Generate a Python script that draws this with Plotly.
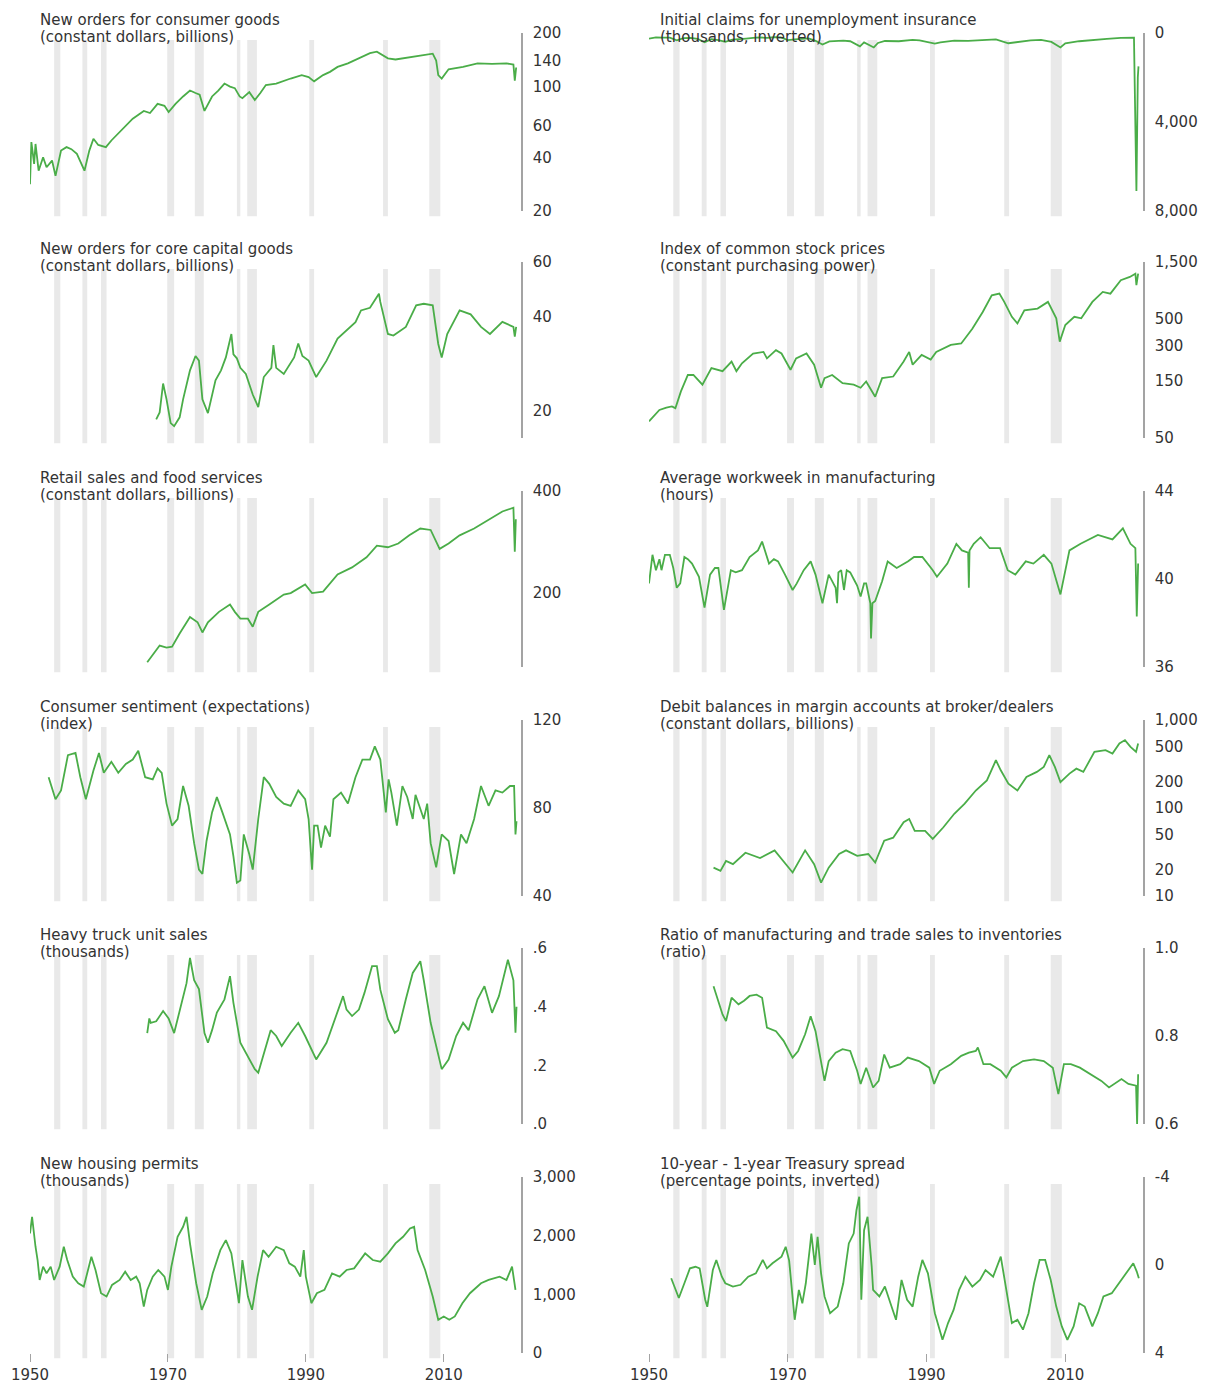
import math
import plotly.graph_objects as go

# ---------------- recession periods (shaded) ----------------
rec_start = [1953.5, 1957.6, 1960.3, 1969.9, 1973.9, 1980.0, 1981.5, 1990.5, 2001.2, 2007.9]
rec_end = [1954.4, 1958.3, 1961.1, 1970.9, 1975.2, 1980.5, 1982.9, 1991.2, 2001.9, 2009.5]

# ---------------- series data ----------------
cg_years = [1950.0, 1950.2, 1950.6, 1950.8, 1951.25, 1951.9, 1952.4, 1953.2, 1953.7, 1954.5, 1955.3, 1956.0,
            1956.8, 1957.9, 1958.6, 1959.2, 1959.9, 1961.0, 1961.8, 1962.3, 1963.5, 1964.9, 1966.5, 1967.4,
            1968.5, 1969.5, 1970.1, 1971.1, 1972.2, 1973.2, 1974.0, 1974.6, 1975.3, 1976.4, 1977.3, 1978.2,
            1979.0, 1979.7, 1980.4, 1980.8, 1981.8, 1982.6, 1983.4, 1984.2, 1985.7, 1986.8, 1987.8, 1989.4,
            1990.4, 1991.2, 1992.5, 1993.5, 1994.6, 1996.1, 1997.7, 1999.3, 2000.3, 2001.4, 2001.9, 2003.0,
            2004.0, 2005.5, 2007.1, 2008.4, 2008.9, 2009.2, 2009.7, 2010.7, 2012.8, 2014.9, 2017.0, 2019.1,
            2020.1, 2020.3, 2020.5]
cg_values = [28.3, 48.8, 36.8, 47.6, 33.7, 40.1, 35.2, 38.4, 31.5, 43.7, 45.7, 44.5,
             41.9, 33.7, 43.7, 50.9, 47.0, 45.7, 49.8, 52, 58, 66, 73, 71,
             80, 78, 72, 80, 88, 95, 92, 90, 73, 88, 95, 104,
             100, 98, 88, 86, 93, 84, 92, 102, 104, 108, 111, 116,
             113, 107, 116, 121, 129, 135, 144, 154, 157, 147, 144, 142,
             144, 147, 151, 153, 140, 116, 111, 125, 129, 135, 134, 135,
             133, 108, 128]

claims_years = [1950.0, 1951.0, 1952.0, 1953.0, 1954.0, 1955.0, 1956.0, 1957.0, 1958.0, 1959.0, 1960.0, 1961.0,
                1962.0, 1963.0, 1964.0, 1965.0, 1966.0, 1967.0, 1968.0, 1969.0, 1970.0, 1971.0, 1972.0, 1973.0,
                1974.0, 1975.0, 1976.0, 1977.0, 1978.0, 1979.0, 1980.4, 1981.0, 1982.4, 1983.0, 1984.0, 1986.0,
                1988.0, 1989.0, 1991.2, 1992.0, 1994.0, 1996.0, 1998.0, 2000.0, 2001.8, 2003.0, 2005.0, 2006.5,
                2008.0, 2009.3, 2010.0, 2012.0, 2014.0, 2016.0, 2018.0, 2019.9, 2020.25, 2020.35, 2020.45, 2020.55]
claims_values = [250, 200, 210, 210, 330, 230, 220, 260, 420, 280, 320, 400,
                 300, 290, 250, 220, 200, 220, 190, 200, 320, 290, 260, 240,
                 350, 520, 380, 360, 340, 370, 600, 420, 650, 450, 360, 370,
                 310, 330, 480, 420, 340, 350, 310, 290, 460, 410, 330, 310,
                 400, 650, 460, 370, 300, 260, 220, 215, 7100, 4000, 2000, 1500]

cap_years = [1968.3, 1968.8, 1969.3, 1969.8, 1970.4, 1970.9, 1971.7, 1972.2, 1973.2, 1974.0, 1974.5, 1975.0,
             1975.8, 1976.9, 1977.7, 1978.4, 1979.2, 1979.5, 1980.0, 1980.5, 1981.3, 1982.3, 1983.1, 1983.9,
             1985.0, 1985.3, 1985.7, 1986.8, 1988.3, 1988.9, 1989.5, 1990.4, 1991.5, 1993.0, 1994.6, 1996.1,
             1997.2, 1998.0, 1999.3, 2000.6, 2000.8, 2001.9, 2002.7, 2004.5, 2006.0, 2007.1, 2008.4, 2009.2,
             2009.7, 2010.5, 2012.3, 2013.9, 2015.4, 2016.7, 2018.5, 2020.1, 2020.3, 2020.5]
cap_values = [18.8, 19.8, 24.5, 21.8, 18.3, 17.9, 19.1, 21.8, 27.0, 30.0, 29.0, 21.8,
              19.7, 25.1, 27.0, 29.7, 35.3, 30.4, 29.5, 27.5, 26.3, 22.6, 20.6, 25.7,
              27.5, 32.5, 27.5, 26.3, 29.7, 32.9, 30.0, 29.0, 25.7, 29.0, 34.1, 36.7,
              38.5, 42.0, 42.8, 47.5, 44.7, 35.3, 34.9, 37.2, 43.6, 44.1, 43.6, 32.8,
              29.7, 35.3, 42.0, 40.8, 37.2, 35.3, 38.6, 37.2, 34.6, 37.2]

stock_years = [1950.0, 1951.5, 1952.5, 1953.3, 1953.8, 1954.6, 1955.6, 1956.4, 1957.7, 1959.0, 1960.6, 1961.9,
               1962.6, 1963.4, 1965.0, 1966.5, 1967.0, 1968.3, 1969.1, 1970.4, 1971.2, 1972.7, 1973.8, 1974.8,
               1975.3, 1976.4, 1977.9, 1979.5, 1980.5, 1981.3, 1982.6, 1983.6, 1985.2, 1986.7, 1987.5, 1988.0,
               1989.3, 1990.6, 1991.4, 1993.5, 1995.0, 1996.6, 1998.1, 1999.4, 2000.5, 2001.2, 2002.3, 2003.1,
               2004.1, 2006.0, 2007.5, 2008.7, 2009.2, 2010.0, 2011.3, 2012.3, 2013.9, 2015.4, 2016.5, 2018.0,
               2019.3, 2020.1, 2020.25, 2020.5]
stock_values = [69, 86, 90, 92, 89, 123, 169, 169, 140, 193, 182, 219,
                182, 212, 256, 264, 233, 273, 256, 187, 233, 256, 206, 132,
                159, 169, 144, 140, 132, 149, 111, 159, 164, 219, 264, 206,
                249, 228, 264, 302, 311, 413, 571, 788, 814, 694, 520, 457,
                590, 610, 694, 505, 322, 444, 520, 505, 694, 842, 814, 1055,
                1124, 1198, 958, 1198]

retail_years = [1967.0, 1968.8, 1969.8, 1970.6, 1971.7, 1973.2, 1974.3, 1975.0, 1975.8, 1977.4, 1979.0, 1979.7,
                1980.5, 1981.6, 1982.3, 1983.1, 1984.7, 1986.8, 1987.8, 1989.9, 1990.9, 1992.5, 1994.6, 1996.7,
                1998.8, 2000.3, 2001.9, 2003.4, 2005.0, 2006.6, 2008.1, 2009.4, 2010.7, 2012.3, 2014.4, 2016.5,
                2018.5, 2020.1, 2020.3, 2020.45]
retail_values = [125, 140, 138, 139, 152, 170, 164, 153, 164, 176, 185, 176,
                 168, 168, 159, 176, 185, 198, 200, 212, 200, 202, 227, 238,
                 255, 276, 273, 280, 296, 310, 307, 270, 280, 296, 310, 329,
                 348, 357, 265, 330]

work_years = [1950.0, 1950.5, 1951.0, 1951.5, 1951.8, 1952.3, 1953.0, 1953.5, 1954.0, 1954.5, 1955.1, 1955.6,
              1956.2, 1957.2, 1958.0, 1958.8, 1959.5, 1960.0, 1960.8, 1961.3, 1961.8, 1962.5, 1963.4, 1964.5,
              1965.7, 1966.3, 1966.8, 1967.3, 1968.0, 1968.6, 1969.6, 1970.7, 1971.3, 1972.3, 1973.3, 1974.0,
              1975.0, 1975.9, 1976.4, 1976.9, 1977.1, 1977.3, 1977.7, 1978.1, 1978.5, 1979.0, 1979.5, 1980.0,
              1980.5, 1981.0, 1981.3, 1981.9, 1982.0, 1982.2, 1982.6, 1983.6, 1984.4, 1985.7, 1987.3, 1988.2,
              1989.4, 1990.9, 1991.5, 1993.0, 1994.3, 1995.1, 1996.0, 1996.1, 1996.2, 1996.8, 1997.8, 1999.1,
              2000.6, 2001.7, 2002.8, 2004.3, 2005.4, 2006.9, 2008.0, 2009.3, 2010.6, 2012.2, 2014.7, 2016.8,
              2018.3, 2019.4, 2020.1, 2020.3, 2020.5]
work_values = [39.8, 41.1, 40.4, 40.9, 40.4, 41.1, 41.1, 40.5, 39.6, 39.8, 41.0, 40.9,
               40.7, 40.1, 38.7, 40.2, 40.5, 40.5, 38.6, 39.5, 40.4, 40.3, 40.4, 41.0,
               41.3, 41.7, 41.2, 40.7, 40.9, 40.8, 40.2, 39.5, 39.8, 40.4, 40.8, 40.2,
               38.9, 40.2, 39.9, 39.6, 38.9, 40.3, 40.4, 39.5, 40.4, 40.3, 40.0, 39.7,
               39.2, 39.8, 39.8, 38.9, 37.3, 38.9, 39.0, 39.9, 40.8, 40.5, 40.8, 41.0,
               41.0, 40.4, 40.1, 40.7, 41.6, 41.3, 41.2, 39.6, 41.3, 41.6, 41.9, 41.4,
               41.4, 40.4, 40.2, 40.8, 40.7, 41.1, 40.7, 39.3, 41.3, 41.6, 42.0, 41.8,
               42.3, 41.6, 41.4, 38.3, 40.7]

sent_years = [1952.7, 1953.7, 1954.5, 1955.5, 1956.6, 1957.3, 1958.1, 1959.2, 1960.0, 1960.7, 1961.8, 1962.8,
              1963.9, 1964.9, 1965.7, 1966.7, 1967.8, 1968.5, 1969.1, 1969.8, 1970.6, 1971.4, 1972.2, 1973.0,
              1973.8, 1974.5, 1975.0, 1975.6, 1976.4, 1977.1, 1977.9, 1979.0, 1979.5, 1980.0, 1980.5, 1981.0,
              1981.8, 1982.3, 1983.1, 1983.9, 1984.7, 1985.7, 1986.8, 1987.8, 1988.9, 1989.9, 1990.4, 1990.9,
              1991.2, 1991.7, 1992.2, 1992.8, 1993.5, 1994.0, 1995.1, 1996.1, 1997.2, 1998.2, 1999.3, 2000.0,
              2000.8, 2001.6, 2002.0, 2002.4, 2003.2, 2004.0, 2004.7, 2005.5, 2005.9, 2006.3, 2007.1, 2007.6,
              2008.1, 2008.9, 2009.7, 2010.7, 2011.5, 2012.5, 2013.3, 2014.4, 2015.4, 2016.5, 2017.5, 2018.5,
              2019.6, 2020.2, 2020.4, 2020.55]
sent_values = [94, 84, 88, 104, 105, 94, 84, 97, 105, 96, 101, 96,
               100, 102, 106, 94, 93, 98, 96, 82, 72, 75, 90, 81,
               64, 52, 50, 65, 78, 85, 78, 68, 58, 46, 47, 68,
               59, 52, 75, 94, 91, 85, 82, 81, 88, 84, 75, 52,
               72, 72, 62, 72, 67, 84, 87, 82, 94, 102, 102, 108,
               102, 78, 93, 87, 72, 90, 85, 75, 86, 82, 75, 82,
               64, 53, 68, 65, 50, 68, 64, 75, 90, 81, 88, 87,
               90, 90, 68, 74]

margin_years = [1959.3, 1960.3, 1961.1, 1962.1, 1963.9, 1966.0, 1968.1, 1969.4, 1970.7, 1972.5, 1973.8, 1974.8,
                1975.9, 1977.4, 1978.4, 1980.0, 1981.6, 1982.6, 1983.9, 1985.2, 1986.7, 1987.5, 1988.3, 1989.8,
                1990.9, 1992.4, 1994.0, 1995.5, 1997.1, 1998.7, 2000.0, 2000.7, 2001.8, 2003.1, 2004.4, 2005.9,
                2006.9, 2007.7, 2008.5, 2009.3, 2010.6, 2011.6, 2012.6, 2014.2, 2015.8, 2016.8, 2017.8, 2018.6,
                2019.4, 2020.2, 2020.5]
margin_values = [21, 19.3, 25, 23, 31, 27, 33, 25, 18.5, 33, 23, 14.2,
                 21, 30, 33, 28.6, 30, 24, 42.5, 46, 69, 75, 55, 55,
                 44.5, 60, 86, 112, 158, 206, 349, 268, 189, 158, 225, 257,
                 293, 398, 293, 197, 246, 280, 257, 435, 454, 416, 541, 591,
                 496, 435, 541]

truck_years = [1967.0, 1967.3, 1967.5, 1968.3, 1969.3, 1970.1, 1970.9, 1971.7, 1972.7, 1973.2, 1973.8, 1974.5,
               1975.3, 1975.8, 1976.4, 1977.1, 1978.2, 1979.0, 1979.5, 1980.5, 1981.6, 1982.6, 1983.1, 1983.9,
               1984.9, 1985.7, 1986.5, 1987.8, 1988.9, 1989.9, 1991.5, 1993.0, 1994.6, 1995.4, 1995.9, 1996.7,
               1997.7, 1998.5, 1999.6, 2000.3, 2000.8, 2001.9, 2002.9, 2003.4, 2004.5, 2005.5, 2006.6, 2007.1,
               2008.1, 2009.2, 2009.7, 2010.7, 2011.8, 2012.8, 2013.6, 2014.9, 2015.9, 2017.0, 2018.0, 2019.3,
               2020.1, 2020.4, 2020.55]
truck_values = [0.31, 0.36, 0.345, 0.35, 0.385, 0.36, 0.31, 0.39, 0.48, 0.566, 0.49, 0.46,
                0.31, 0.277, 0.32, 0.38, 0.425, 0.504, 0.413, 0.277, 0.232, 0.187, 0.175, 0.243,
                0.32, 0.30, 0.266, 0.311, 0.345, 0.30, 0.22, 0.277, 0.379, 0.436, 0.39, 0.368,
                0.39, 0.447, 0.538, 0.538, 0.458, 0.357, 0.311, 0.32, 0.425, 0.515, 0.555, 0.49,
                0.345, 0.243, 0.187, 0.22, 0.30, 0.345, 0.32, 0.425, 0.47, 0.379, 0.436, 0.56,
                0.49, 0.311, 0.40]

ratio_years = [1959.3, 1959.8, 1960.6, 1961.1, 1961.9, 1962.9, 1963.7, 1964.5, 1965.5, 1966.3, 1967.0, 1968.3,
               1969.4, 1970.7, 1971.5, 1972.5, 1973.3, 1974.0, 1974.8, 1975.3, 1975.9, 1976.9, 1977.9, 1979.0,
               1980.0, 1980.5, 1981.3, 1982.3, 1983.1, 1983.9, 1984.7, 1986.2, 1987.3, 1988.9, 1990.4, 1991.1,
               1991.9, 1993.5, 1995.0, 1996.1, 1997.1, 1997.4, 1998.2, 1999.2, 2000.7, 2001.5, 2002.3, 2003.9,
               2005.5, 2006.9, 2008.2, 2009.0, 2009.8, 2010.8, 2012.1, 2013.7, 2015.2, 2016.3, 2017.3, 2018.1,
               2019.1, 2020.2, 2020.35, 2020.5]
ratio_values = [0.913, 0.887, 0.849, 0.834, 0.887, 0.872, 0.880, 0.891, 0.894, 0.887, 0.819, 0.811,
                0.789, 0.751, 0.766, 0.804, 0.845, 0.811, 0.736, 0.698, 0.743, 0.762, 0.770, 0.766,
                0.721, 0.691, 0.728, 0.683, 0.698, 0.758, 0.728, 0.736, 0.751, 0.743, 0.728, 0.691,
                0.721, 0.736, 0.755, 0.762, 0.766, 0.774, 0.736, 0.736, 0.721, 0.706, 0.728, 0.743,
                0.747, 0.743, 0.728, 0.668, 0.736, 0.736, 0.728, 0.713, 0.698, 0.683, 0.694, 0.702,
                0.691, 0.687, 0.600, 0.713]

permit_years = [1950.0, 1950.3, 1950.8, 1951.1, 1951.4, 1951.9, 1952.4, 1953.0, 1953.5, 1954.3, 1954.9, 1955.4,
                1956.2, 1957.0, 1957.8, 1958.6, 1958.9, 1959.5, 1960.3, 1961.1, 1961.9, 1963.0, 1963.8, 1964.6,
                1965.4, 1965.9, 1966.5, 1967.0, 1967.8, 1968.6, 1969.5, 1970.0, 1970.5, 1971.4, 1972.2, 1972.7,
                1973.2, 1974.1, 1974.9, 1975.7, 1976.5, 1977.6, 1978.4, 1979.2, 1980.0, 1980.3, 1980.8, 1981.6,
                1982.2, 1983.0, 1983.8, 1984.6, 1985.7, 1986.8, 1987.6, 1988.4, 1989.2, 1989.7, 1990.0, 1990.8,
                1991.6, 1992.7, 1993.8, 1994.9, 1995.9, 1997.0, 1998.6, 1999.7, 2000.8, 2001.9, 2003.0, 2004.1,
                2005.1, 2005.7, 2006.2, 2007.3, 2008.4, 2009.2, 2010.0, 2010.8, 2011.6, 2012.7, 2013.8, 2015.4,
                2016.5, 2018.1, 2019.1, 2019.9, 2020.4]
permit_values = [2038, 2320, 1811, 1585, 1245, 1472, 1358, 1472, 1245, 1472, 1811, 1585,
                 1302, 1189, 1132, 1528, 1641, 1415, 1019, 962, 1160, 1245, 1387, 1245,
                 1302, 1189, 792, 1075, 1302, 1415, 1302, 1075, 1472, 1981, 2151, 2320,
                 1868, 1189, 736, 962, 1358, 1754, 1924, 1698, 1075, 849, 1585, 962,
                 736, 1302, 1754, 1641, 1811, 1754, 1528, 1472, 1302, 1754, 1302, 849,
                 1019, 1075, 1358, 1302, 1415, 1443, 1698, 1585, 1557, 1698, 1868, 1981,
                 2122, 2151, 1754, 1415, 962, 566, 623, 566, 623, 849, 1019, 1189,
                 1245, 1302, 1245, 1472, 1075]

spread_years = [1953.2, 1954.3, 1955.1, 1955.9, 1956.7, 1957.3, 1958.1, 1958.4, 1959.2, 1959.7, 1960.5, 1961.0,
                1962.1, 1963.2, 1964.3, 1965.4, 1966.4, 1967.0, 1967.8, 1969.1, 1969.7, 1970.2, 1971.0, 1971.6,
                1972.1, 1972.6, 1973.2, 1973.4, 1973.9, 1974.3, 1974.8, 1975.3, 1976.1, 1977.2, 1978.0, 1978.8,
                1979.5, 1979.9, 1980.3, 1980.6, 1981.0, 1981.5, 1982.1, 1982.3, 1983.2, 1984.0, 1984.8, 1985.6,
                1986.4, 1987.2, 1988.0, 1988.8, 1989.4, 1990.2, 1991.2, 1992.3, 1993.1, 1993.9, 1994.7, 1995.6,
                1996.6, 1997.7, 1998.5, 1999.6, 2000.7, 2001.5, 2002.3, 2003.1, 2003.9, 2004.7, 2005.5, 2006.3,
                2007.1, 2007.9, 2008.7, 2009.5, 2010.3, 2011.2, 2012.0, 2012.8, 2013.9, 2014.7, 2015.5, 2016.7,
                2017.7, 2018.7, 2019.8, 2020.3, 2020.6]
spread_values = [0.6, 1.5, 0.83, 0.15, 0.08, 0.15, 1.58, 1.9, 0.23, -0.23, 0.53, 0.83,
                 0.98, 0.9, 0.53, 0.38, -0.23, 0.15, -0.08, -0.38, -0.83, -0.2, 2.49, 1.13,
                 1.74, 0.83, -0.83, -1.43, 0.0, -1.28, 0.38, 1.43, 2.19, 1.89, 0.83, -0.98,
                 -1.43, -2.49, -3.1, 1.58, -1.58, -2.19, 0.08, 1.13, 1.43, 0.98, 1.74, 2.49,
                 0.68, 1.58, 1.89, 0.53, -0.23, 0.38, 2.19, 3.4, 2.64, 2.04, 1.13, 0.53,
                 0.98, 0.68, 0.23, 0.53, -0.38, 1.13, 2.64, 2.49, 2.94, 2.19, 0.83, -0.23,
                 -0.23, 0.68, 1.89, 2.79, 3.4, 2.79, 1.74, 1.89, 2.79, 2.19, 1.43, 1.28,
                 0.83, 0.38, -0.08, 0.3, 0.6]

# ---------------- tick labels ----------------
cg_ticks = [20, 40, 60, 100, 140, 200]
cg_ticktext = ["20", "40", "60", "100", "140", "200"]
claims_ticks = [0, 4000, 8000]
claims_ticktext = ["0", "4,000", "8,000"]
cap_ticks = [20, 40, 60]
cap_ticktext = ["20", "40", "60"]
stock_ticks = [50, 150, 300, 500, 1500]
stock_ticktext = ["50", "150", "300", "500", "1,500"]
retail_ticks = [200, 400]
retail_ticktext = ["200", "400"]
work_ticks = [36, 40, 44]
work_ticktext = ["36", "40", "44"]
sent_ticks = [40, 80, 120]
sent_ticktext = ["40", "80", "120"]
margin_ticks = [10, 20, 50, 100, 200, 500, 1000]
margin_ticktext = ["10", "20", "50", "100", "200", "500", "1,000"]
truck_ticks = [0, 0.2, 0.4, 0.6]
truck_ticktext = [".0", ".2", ".4", ".6"]
ratio_ticks = [0.6, 0.8, 1.0]
ratio_ticktext = ["0.6", "0.8", "1.0"]
permit_ticks = [0, 1000, 2000, 3000]
permit_ticktext = ["0", "1,000", "2,000", "3,000"]
spread_ticks = [-4, 0, 4]
spread_ticktext = ["-4", "0", "4"]
year_ticks = [1950, 1970, 1990, 2010]
year_ticktext = ["1950", "1970", "1990", "2010"]

# ---------------- layout constants ----------------
# The page body has an 8px default margin, so the figure is drawn 8px smaller
# and every target pixel position is shifted by that offset.
OFF = 8
W, H = 1209 - OFF, 1389 - OFF
COL_PX = [(30, 521), (649, 1143)]
TITLE_X = [38, 658]
ROW_PX = [(33, 211), (262, 438), (491, 667), (720, 896), (948, 1124), (1177, 1353)]
X_RANGE = [1950, 2021.2]
GREEN = "#4aad48"
REC_FILL = "#e9e9e9"
AXIS_GRAY = "#a3a3a3"
TEXT = "#333333"
FONT = "DejaVu Sans"
FS = 15


def px_x(p):
    return (p - OFF) / W


def px_y(p):
    return 1 - (p - OFF) / H


def lg(v):
    return math.log10(v)


panels = [
    dict(row=0, col=0, t=("New orders for consumer goods", "(constant dollars, billions)"),
         x=cg_years, y=cg_values, type="log", range=[lg(20), lg(200)], tv=cg_ticks, tt=cg_ticktext),
    dict(row=0, col=1, t=("Initial claims for unemployment insurance", "(thousands, inverted)"),
         x=claims_years, y=claims_values, type="linear", range=[8000, 0], tv=claims_ticks, tt=claims_ticktext),
    dict(row=1, col=0, t=("New orders for core capital goods", "(constant dollars, billions)"),
         x=cap_years, y=cap_values, type="log", range=[lg(16.4), lg(60)], tv=cap_ticks, tt=cap_ticktext),
    dict(row=1, col=1, t=("Index of common stock prices", "(constant purchasing power)"),
         x=stock_years, y=stock_values, type="log", range=[lg(50), lg(1500)], tv=stock_ticks, tt=stock_ticktext),
    dict(row=2, col=0, t=("Retail sales and food services", "(constant dollars, billions)"),
         x=retail_years, y=retail_values, type="log", range=[lg(121), lg(400)], tv=retail_ticks, tt=retail_ticktext),
    dict(row=2, col=1, t=("Average workweek in manufacturing", "(hours)"),
         x=work_years, y=work_values, type="linear", range=[36, 44], tv=work_ticks, tt=work_ticktext),
    dict(row=3, col=0, t=("Consumer sentiment (expectations)", "(index)"),
         x=sent_years, y=sent_values, type="linear", range=[40, 120], tv=sent_ticks, tt=sent_ticktext),
    dict(row=3, col=1, t=("Debit balances in margin accounts at broker/dealers", "(constant dollars, billions)"),
         x=margin_years, y=margin_values, type="log", range=[1, 3], tv=margin_ticks, tt=margin_ticktext),
    dict(row=4, col=0, t=("Heavy truck unit sales", "(thousands)"),
         x=truck_years, y=truck_values, type="linear", range=[0, 0.6], tv=truck_ticks, tt=truck_ticktext),
    dict(row=4, col=1, t=("Ratio of manufacturing and trade sales to inventories", "(ratio)"),
         x=ratio_years, y=ratio_values, type="linear", range=[0.6, 1.0], tv=ratio_ticks, tt=ratio_ticktext),
    dict(row=5, col=0, t=("New housing permits", "(thousands)"),
         x=permit_years, y=permit_values, type="linear", range=[0, 3000], tv=permit_ticks, tt=permit_ticktext),
    dict(row=5, col=1, t=("10-year - 1-year Treasury spread", "(percentage points, inverted)"),
         x=spread_years, y=spread_values, type="linear", range=[4, -4], tv=spread_ticks, tt=spread_ticktext),
]

fig = go.Figure()
layout = {}
shapes = []
annotations = []

for i, p in enumerate(panels, start=1):
    xa = "x" if i == 1 else f"x{i}"
    ya = "y" if i == 1 else f"y{i}"
    xkey = "xaxis" if i == 1 else f"xaxis{i}"
    ykey = "yaxis" if i == 1 else f"yaxis{i}"
    x0, x1 = COL_PX[p["col"]]
    top, bot = ROW_PX[p["row"]]
    bottom_row = p["row"] == 5

    fig.add_trace(go.Scatter(x=p["x"], y=p["y"], mode="lines",
                             line=dict(color=GREEN, width=1.8),
                             xaxis=xa, yaxis=ya, showlegend=False, hoverinfo="skip"))

    layout[xkey] = dict(domain=[px_x(x0), px_x(x1)], range=X_RANGE, anchor=ya, automargin=False,
                        showgrid=False, zeroline=False, showline=False,
                        visible=bottom_row,
                        tickmode="array", tickvals=year_ticks, ticktext=year_ticktext,
                        ticks="outside", ticklen=8, tickwidth=1, tickcolor=AXIS_GRAY,
                        tickfont=dict(family=FONT, size=FS, color=TEXT))
    layout[ykey] = dict(domain=[px_y(bot), px_y(top)], anchor=xa, side="right", automargin=False,
                        type=p["type"], range=p["range"],
                        tickmode="array", tickvals=p["tv"], ticktext=p["tt"],
                        showgrid=False, zeroline=False,
                        showline=True, linecolor=AXIS_GRAY, linewidth=1.5,
                        ticks="outside", ticklen=7, tickcolor="rgba(0,0,0,0)",
                        tickfont=dict(family=FONT, size=FS, color=TEXT))

    for s, e in zip(rec_start, rec_end):
        shapes.append(dict(type="rect", xref=xa, yref=f"{ya} domain",
                           x0=s, x1=e, y0=-0.03, y1=0.96,
                           fillcolor=REC_FILL, line=dict(width=0), layer="below"))

    for k, line in enumerate(p["t"]):
        ypx = top - 13 + 17 * k
        annotations.append(dict(text=line, xref="paper", yref="paper",
                                x=px_x(TITLE_X[p["col"]]), y=px_y(ypx),
                                xanchor="left", yanchor="middle", showarrow=False,
                                font=dict(family=FONT, size=FS, color=TEXT)))

fig.update_layout(**layout)
fig.update_layout(template="none", width=W, height=H, autosize=False,
                  margin=dict(l=0, r=0, t=0, b=0, pad=0),
                  paper_bgcolor="white", plot_bgcolor="white",
                  shapes=shapes, annotations=annotations,
                  font=dict(family=FONT, size=FS, color=TEXT))

fig.write_html("out.html")
